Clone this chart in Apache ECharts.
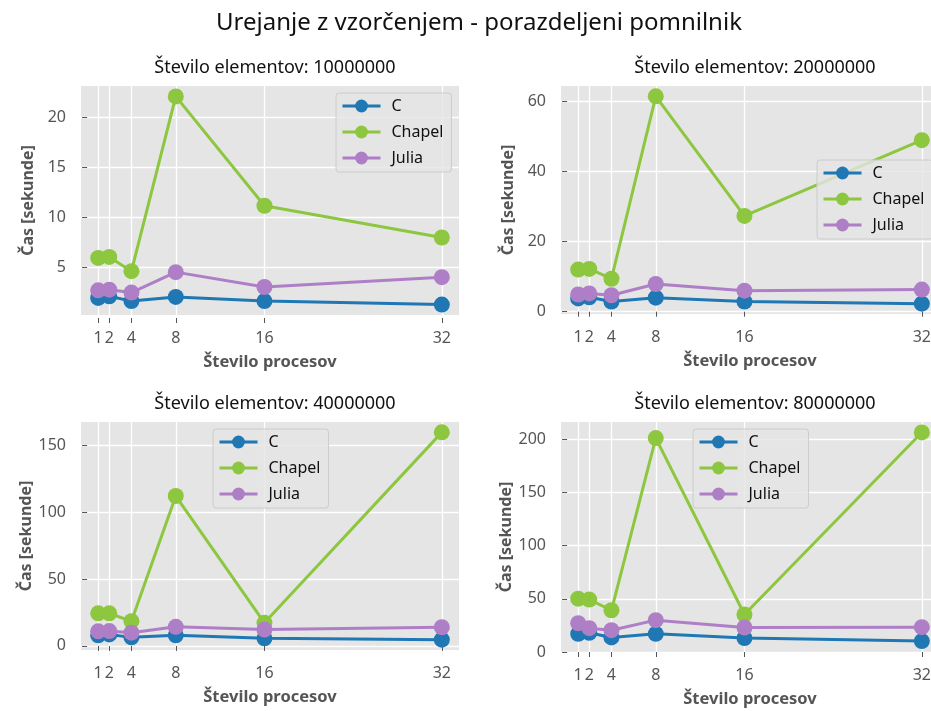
<!DOCTYPE html>
<html>
<head>
<meta charset="utf-8">
<script src="https://cdn.jsdelivr.net/npm/echarts@6/dist/echarts.min.js"></script>
<style>html,body{margin:0;padding:0;background:#fff}#c{width:931px;height:711px}</style>
</head>
<body>
<div id="c"></div>
<script>
// ---- data ----
var procs = [1, 2, 4, 8, 16, 32];
var sizes = ['10000000', '20000000', '40000000', '80000000'];
var seriesNames = ['C', 'Chapel', 'Julia'];
var cTimes = [
  [1.92, 2.08, 1.60, 2.02, 1.60, 1.25],
  [3.8, 4.1, 2.9, 4.0, 2.9, 2.3],
  [7.9, 8.6, 6.4, 7.9, 5.7, 4.7],
  [17.1, 18.0, 13.7, 17.1, 13.1, 10.3]
];
var chapelTimes = [
  [5.92, 6.02, 4.60, 22.1, 11.15, 7.97],
  [12.0, 12.2, 9.4, 61.4, 27.3, 48.9],
  [24.4, 24.4, 18.5, 112.3, 17.3, 160.0],
  [50.1, 49.2, 39.2, 200.9, 35.2, 206.2]
];
var juliaTimes = [
  [2.68, 2.74, 2.45, 4.5, 3.01, 4.0],
  [4.9, 5.2, 4.7, 7.9, 6.0, 6.3],
  [10.9, 11.1, 9.9, 14.3, 12.3, 14.0],
  [27.0, 22.4, 20.5, 29.9, 23.0, 23.3]
];
var yTicks = [
  [5, 10, 15, 20],
  [0, 20, 40, 60],
  [0, 50, 100, 150],
  [0, 50, 100, 150, 200]
];
var mainTitle = 'Urejanje z vzorčenjem - porazdeljeni pomnilnik';
var subTitlePrefix = 'Število elementov: ';
var xLabel = 'Število procesov';
var yLabel = 'Čas [sekunde]';

// ---- style / layout ----
var colors = ['#1f77b4', '#8dc63f', '#ae7fc6'];
var FONT = 'Noto Sans';
var grids = [
  {left: 81, top: 86, width: 378, height: 229},
  {left: 561, top: 86, width: 378, height: 228},
  {left: 81, top: 422, width: 378, height: 228},
  {left: 561, top: 422, width: 378, height: 230}
];
var legendPos = [
  {left: 336, top: 93},
  {left: 817, top: 160},
  {left: 213, top: 429},
  {left: 693, top: 429}
];

var allData = [cTimes, chapelTimes, juliaTimes];
var xMin = Math.min.apply(null, procs), xMax = Math.max.apply(null, procs);
var xPad = (xMax - xMin) * 0.05;

var option = {
  backgroundColor: '#ffffff',
  animation: false,
  textStyle: {fontFamily: FONT},
  title: [{
    text: mainTitle, left: 474, top: 6, textAlign: 'center',
    textStyle: {fontFamily: FONT, fontSize: 24, fontWeight: 'normal', color: '#111'}
  }],
  grid: [], xAxis: [], yAxis: [], series: [], legend: []
};

sizes.forEach(function (s, i) {
  var g = grids[i];
  option.grid.push({left: g.left, top: g.top, width: g.width, height: g.height,
    show: true, backgroundColor: '#e5e5e5', borderWidth: 0,
    containLabel: false, outerBoundsMode: 'none'});
  option.title.push({
    text: subTitlePrefix + s, left: g.left + g.width / 2, top: g.top - 32, textAlign: 'center',
    textStyle: {fontFamily: FONT, fontSize: 18, fontWeight: 'normal', color: '#111'}
  });
  var vals = [];
  allData.forEach(function (d) { vals = vals.concat(d[i]); });
  var lo = Math.min.apply(null, vals), hi = Math.max.apply(null, vals);
  var pad = (hi - lo) * 0.05;
  option.xAxis.push({
    type: 'value', gridIndex: i, min: xMin - xPad, max: xMax + xPad, offset: 3,
    name: xLabel, nameLocation: 'middle', nameGap: 36,
    nameTextStyle: {fontFamily: FONT, fontSize: 16.5, fontWeight: 'bold', color: '#555'},
    axisLine: {show: false},
    axisTick: {show: true, length: 5, customValues: procs, lineStyle: {color: '#555', width: 1}},
    axisLabel: {customValues: procs, margin: 12, fontSize: 16, color: '#555', fontFamily: FONT},
    splitLine: {show: true, lineStyle: {color: '#ffffff', width: 1.3}}
  });
  option.yAxis.push({
    type: 'value', gridIndex: i, min: Math.min(lo - pad, yTicks[i][0]), max: hi + pad, offset: 3,
    name: yLabel, nameLocation: 'middle', nameGap: 42, nameRotate: 90,
    nameTextStyle: {fontFamily: FONT, fontSize: 16, fontWeight: 'bold', color: '#555'},
    axisLine: {show: false},
    axisTick: {show: true, length: 5, customValues: yTicks[i], lineStyle: {color: '#555', width: 1}},
    axisLabel: {customValues: yTicks[i], margin: 12, fontSize: 16, color: '#555', fontFamily: FONT},
    splitLine: {show: true, lineStyle: {color: '#ffffff', width: 1.3}}
  });
  seriesNames.forEach(function (n, k) {
    option.series.push({
      name: n, type: 'line', xAxisIndex: i, yAxisIndex: i,
      data: procs.map(function (p, j) { return [p, allData[k][i][j]]; }),
      symbol: 'circle', symbolSize: 16,
      lineStyle: {color: colors[k], width: 3},
      itemStyle: {color: colors[k]},
      z: 2 + k
    });
  });
  option.legend.push({
    data: seriesNames, orient: 'vertical', left: legendPos[i].left, top: legendPos[i].top,
    itemWidth: 38, itemHeight: 16, itemGap: 10, padding: [5, 8, 6, 5],
    backgroundColor: 'rgba(229,229,229,0.8)', borderColor: '#cccccc', borderWidth: 1, borderRadius: 3,
    lineStyle: {width: 3},
    textStyle: {fontFamily: FONT, fontSize: 16, color: '#111', lineHeight: 16, padding: [0, 0, 0, 6]},
    selectedMode: false
  });
});

var chart = echarts.init(document.getElementById('c'), null, {renderer: 'canvas'});
chart.setOption(option);
</script>
</body>
</html>
